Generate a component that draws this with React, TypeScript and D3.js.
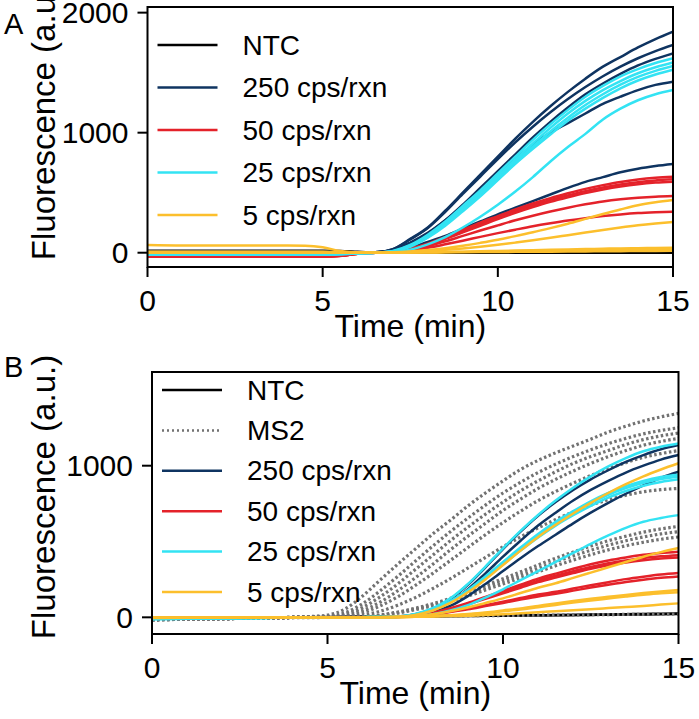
import React from "react";
import * as d3 from "d3";

// sample times (min), shared by every trace
const time = [0, 1, 2, 3, 4, 4.5, 5, 5.5, 6, 6.5, 7, 7.5, 8, 8.5, 9, 9.5, 10, 10.5, 11, 11.5, 12, 12.5, 13, 13.5, 14, 14.5, 15];
const xTicks = [0, 5, 10, 15];
const yTicksA = [0, 1000, 2000];
const yTicksB = [0, 1000];

// ---- panel A traces ----
const ntcA = [
  [17, 17, 17, 17, 17, 17, 17, 15, 8, 2, 0, 0, 0, 0, 0, 0, 0, 0, 0, 0, 0, 0, 0, 0, 0, 0, 0],
  [2, 2, 2, 2, 2, 2, 2, 2, 1, 0, 0, 0, 0, 0, 1, 1, 1, 1, 1, 1, 1, 1, 1, 1, 1, 1, 1],
];
const cps250A = [
  [5, 5, 5, 5, 5, 5, 5, 4, 2, 3, 30, 115, 210, 350, 500, 650, 800, 950, 1090, 1220, 1340, 1450, 1550, 1630, 1710, 1780, 1842],
  [6, 6, 6, 6, 6, 6, 6, 5, 2, 3, 28, 110, 205, 340, 490, 635, 780, 920, 1050, 1170, 1280, 1380, 1470, 1550, 1620, 1680, 1731],
  [4, 4, 4, 4, 4, 4, 4, 3, 1, 2, 20, 80, 160, 270, 400, 540, 680, 820, 960, 1090, 1210, 1320, 1410, 1490, 1560, 1615, 1661],
  [8, 8, 8, 8, 8, 8, 8, 6, 3, 3, 22, 85, 165, 270, 390, 520, 650, 780, 900, 1000, 1080, 1160, 1240, 1300, 1355, 1398, 1425],
  [3, 3, 3, 3, 3, 3, 3, 2, 1, 1, 10, 40, 90, 140, 200, 260, 320, 375, 430, 485, 540, 590, 630, 670, 700, 722, 739],
];
const cps50A = [
  [-30, -30, -30, -30, -30, -30, -30, -25, -8, 0, 10, 35, 75, 130, 190, 250, 305, 360, 410, 455, 495, 532, 563, 590, 610, 624, 633],
  [-32, -32, -32, -32, -32, -32, -32, -26, -8, 0, 10, 33, 72, 125, 183, 240, 295, 347, 395, 440, 478, 513, 543, 568, 588, 602, 611],
  [-28, -28, -28, -28, -28, -28, -28, -23, -7, 0, 8, 30, 65, 115, 170, 225, 280, 332, 380, 424, 462, 497, 527, 552, 571, 584, 592],
  [-33, -33, -33, -33, -33, -33, -33, -27, -9, 0, 6, 25, 55, 95, 140, 185, 228, 270, 308, 343, 375, 403, 427, 445, 458, 467, 472],
  [-30, -30, -30, -30, -30, -30, -30, -25, -8, 0, 5, 20, 42, 70, 100, 132, 163, 192, 220, 245, 268, 288, 305, 319, 330, 337, 342],
];
const cps25A = [
  [-12, -12, -12, -12, -12, -12, -12, -10, -5, 0, 15, 65, 150, 260, 390, 520, 660, 800, 940, 1070, 1190, 1300, 1390, 1470, 1530, 1580, 1620],
  [-14, -14, -14, -14, -14, -14, -14, -11, -5, 0, 12, 60, 140, 245, 370, 500, 640, 775, 910, 1040, 1160, 1265, 1355, 1430, 1495, 1545, 1585],
  [-10, -10, -10, -10, -10, -10, -10, -8, -4, 0, 10, 55, 130, 235, 355, 485, 620, 755, 885, 1010, 1125, 1230, 1320, 1400, 1465, 1515, 1555],
  [-15, -15, -15, -15, -15, -15, -15, -12, -6, 0, 10, 50, 125, 225, 345, 470, 605, 740, 865, 985, 1100, 1200, 1290, 1370, 1435, 1485, 1525],
  [-12, -12, -12, -12, -12, -12, -12, -10, -5, 0, 5, 25, 70, 130, 210, 300, 400, 510, 630, 760, 880, 990, 1110, 1200, 1270, 1320, 1355],
];
const cps5A = [
  [64, 60, 60, 60, 60, 58, 45, 15, 2, 0, 3, 10, 22, 38, 58, 82, 108, 138, 170, 205, 242, 282, 322, 360, 395, 420, 439],
  [5, 5, 5, 5, 5, 5, 5, 4, 2, 0, 2, 6, 14, 24, 36, 50, 66, 84, 103, 124, 146, 168, 190, 210, 228, 243, 256],
  [8, 8, 8, 8, 8, 8, 8, 6, 3, 0, 1, 2, 4, 6, 9, 12, 15, 18, 21, 24, 27, 30, 33, 36, 38, 40, 42],
  [3, 3, 3, 3, 3, 3, 3, 2, 1, 0, 1, 2, 3, 5, 7, 9, 11, 13, 15, 17, 19, 21, 23, 25, 27, 29, 30],
  [0, 0, 0, 0, 0, 0, 0, 0, 0, 0, 0, 1, 2, 3, 4, 5, 6, 7, 8, 9, 10, 11, 12, 13, 14, 15, 16],
];

// ---- panel B traces ----
const ntcB = [
  [-6, -5, -4, -3, -1, 0, 1, 2, 3, 4, 5, 6, 7, 8, 9, 10, 11, 12, 13, 14, 15, 16, 17, 18, 19, 20, 22],
  [-4, -3, -2, -1, 0, 1, 2, 3, 4, 5, 6, 7, 8, 9, 10, 11, 12, 13, 14, 15, 16, 18, 19, 21, 22, 24, 25],
];
const ms2B = [
  [-15, -12, -9, -5, 0, 5, 15, 55, 140, 246, 350, 450, 550, 640, 735, 820, 900, 975, 1035, 1085, 1130, 1175, 1222, 1260, 1295, 1322, 1345],
  [-16, -13, -9, -5, 0, 4, 8, 30, 90, 175, 270, 370, 470, 565, 655, 740, 820, 890, 955, 1010, 1060, 1105, 1145, 1180, 1210, 1232, 1250],
  [-14, -11, -8, -4, 0, 3, 5, 20, 65, 135, 220, 315, 410, 505, 595, 680, 760, 835, 900, 960, 1015, 1060, 1100, 1140, 1172, 1197, 1215],
  [-17, -13, -9, -5, -1, 2, 3, 12, 45, 100, 175, 260, 350, 445, 535, 620, 705, 780, 850, 910, 965, 1015, 1060, 1100, 1135, 1160, 1180],
  [-15, -12, -9, -5, -1, 1, 2, 8, 30, 75, 135, 210, 290, 375, 460, 545, 625, 700, 770, 830, 885, 935, 980, 1020, 1055, 1080, 1100],
  [-16, -12, -9, -5, -1, 1, 2, 5, 15, 40, 80, 130, 190, 255, 325, 395, 465, 530, 590, 645, 695, 740, 775, 805, 828, 842, 850],
  [-14, -11, -8, -5, -1, 1, 2, 3, 5, 15, 35, 60, 90, 125, 165, 210, 255, 300, 345, 390, 430, 470, 505, 535, 562, 583, 600],
  [-15, -12, -9, -5, -1, 1, 2, 3, 4, 13, 32, 55, 83, 115, 152, 195, 238, 280, 323, 366, 405, 442, 476, 505, 530, 550, 565],
  [-16, -13, -9, -5, -1, 1, 2, 3, 3, 10, 28, 50, 76, 106, 140, 180, 220, 260, 300, 340, 378, 413, 445, 472, 495, 515, 530],
  [-15, -12, -9, -6, -3, -2, -1, 0, 2, 4, 6, 7, 8, 9, 10, 11, 12, 13, 14, 15, 16, 17, 18, 19, 20, 21, 22],
];
const cps250B = [
  [-8, -6, -5, -3, -1, 0, 0, 0, 1, 2, 5, 20, 55, 120, 215, 330, 450, 565, 670, 760, 840, 910, 970, 1025, 1070, 1108, 1136],
  [-6, -5, -4, -2, -1, 0, 0, 0, 1, 2, 4, 15, 45, 100, 185, 290, 400, 505, 605, 690, 770, 840, 900, 955, 1000, 1040, 1070],
  [-7, -6, -4, -3, -1, 0, 0, 0, 1, 1, 3, 12, 35, 75, 140, 220, 305, 390, 470, 545, 620, 690, 755, 815, 870, 920, 960],
];
const cps50B = [
  [-6, -5, -4, -2, -1, 0, 0, 0, 1, 1, 3, 12, 30, 60, 95, 135, 175, 215, 255, 288, 320, 350, 375, 395, 412, 424, 433],
  [-8, -6, -5, -3, -1, 0, 0, 0, 1, 1, 3, 11, 28, 56, 90, 128, 166, 204, 242, 274, 304, 332, 356, 375, 391, 402, 410],
  [-5, -4, -3, -2, -1, 0, 0, 0, 1, 1, 3, 10, 26, 53, 86, 122, 158, 195, 232, 263, 292, 320, 343, 362, 377, 388, 395],
  [-7, -6, -4, -3, -1, 0, 0, 0, 1, 1, 2, 8, 20, 38, 58, 80, 103, 127, 150, 168, 190, 212, 232, 252, 268, 282, 292],
  [-6, -5, -4, -2, -1, 0, 0, 0, 1, 1, 2, 7, 18, 35, 53, 74, 95, 117, 138, 156, 176, 196, 215, 233, 248, 261, 270],
];
const cps25B = [
  [-10, -8, -6, -4, -2, -1, 0, 0, 1, 2, 5, 22, 60, 125, 220, 335, 455, 570, 675, 770, 855, 930, 995, 1050, 1095, 1125, 1146],
  [-12, -10, -7, -5, -2, -1, 0, 0, 1, 2, 4, 18, 50, 105, 180, 270, 365, 460, 550, 630, 700, 765, 820, 865, 900, 925, 940],
  [-9, -7, -5, -4, -2, -1, 0, 0, 1, 2, 4, 17, 48, 102, 176, 265, 358, 452, 540, 620, 690, 753, 808, 852, 887, 912, 927],
  [-11, -9, -6, -4, -2, -1, 0, 0, 1, 2, 4, 16, 46, 98, 170, 257, 348, 440, 527, 605, 673, 735, 790, 833, 868, 893, 910],
  [-10, -8, -6, -4, -2, -1, 0, 0, 1, 1, 2, 8, 20, 45, 80, 130, 185, 245, 305, 365, 425, 485, 540, 590, 630, 655, 674],
];
const cps5B = [
  [-4, -3, -2, -1, 0, 0, 0, 0, 1, 2, 4, 16, 45, 95, 165, 250, 345, 440, 530, 610, 685, 755, 820, 878, 930, 975, 1016],
  [-3, -2, -2, -1, 0, 0, 0, 0, 1, 1, 2, 8, 20, 40, 65, 95, 125, 160, 195, 225, 260, 295, 330, 365, 400, 430, 457],
  [-2, -2, -1, -1, 0, 0, 0, 0, 1, 1, 2, 4, 8, 14, 22, 32, 45, 58, 75, 92, 108, 122, 135, 148, 160, 170, 180],
  [-3, -2, -2, -1, 0, 0, 0, 0, 1, 1, 2, 4, 7, 12, 19, 28, 40, 52, 67, 82, 97, 111, 124, 137, 149, 158, 166],
  [-2, -1, -1, 0, 0, 0, 0, 0, 1, 1, 1, 3, 5, 8, 10, 15, 20, 27, 33, 40, 47, 54, 61, 68, 75, 84, 92],
];

const FONT = '"Liberation Sans", Arial, Helvetica, sans-serif';
const NAVY = "#0f3461";
const RED = "#e4222a";
const CYAN = "#33e3f3";
const GOLD = "#fcbf2c";
const GREY = "#727272";

type Group = { label: string; color: string; dotted?: boolean; lines: number[][] };

const groupsA: Group[] = [
  { label: "NTC", color: "#000", lines: ntcA },
  { label: "250 cps/rxn", color: NAVY, lines: cps250A },
  { label: "50 cps/rxn", color: RED, lines: cps50A },
  { label: "25 cps/rxn", color: CYAN, lines: cps25A },
  { label: "5 cps/rxn", color: GOLD, lines: cps5A },
];
const groupsB: Group[] = [
  { label: "NTC", color: "#000", lines: ntcB },
  { label: "MS2", color: GREY, dotted: true, lines: ms2B },
  { label: "250 cps/rxn", color: NAVY, lines: cps250B },
  { label: "50 cps/rxn", color: RED, lines: cps50B },
  { label: "25 cps/rxn", color: CYAN, lines: cps25B },
  { label: "5 cps/rxn", color: GOLD, lines: cps5B },
];

interface PanelProps {
  id: string;
  letter: string;
  letterY: number;
  groups: Group[];
  left: number;
  right: number;
  top: number;
  bottom: number;
  yDomain: [number, number];
  yTicks: number[];
  legendY: number;
  legendStep: number;
  ylabelY: number;
}

function Panel(p: PanelProps) {
  const x = d3.scaleLinear().domain([0, 15]).range([p.left, p.right]);
  const y = d3.scaleLinear().domain(p.yDomain).range([p.bottom, p.top]);
  const line = d3.line<number>()
    .x((_, i) => x(time[i]))
    .y((d) => y(d))
    .curve(d3.curveMonotoneX);
  const lx = p.left + 10;
  return (
    <g fontFamily={FONT}>
      <defs>
        <clipPath id={`clip-${p.id}`}>
          <rect x={p.left} y={p.top} width={p.right - p.left} height={p.bottom - p.top} />
        </clipPath>
      </defs>
      <g clipPath={`url(#clip-${p.id})`}>
        {p.groups.map((g) =>
          g.lines.map((vals, k) => (
            <path
              key={g.label + k}
              d={line(vals) || ""}
              fill="none"
              stroke={g.color}
              strokeWidth={g.dotted ? 3.2 : 2.5}
              strokeDasharray={g.dotted ? "2.5 2.5" : undefined}
            />
          ))
        )}
      </g>
      <rect x={p.left} y={p.top} width={p.right - p.left} height={p.bottom - p.top}
        fill="none" stroke="#000" strokeWidth={2} />
      {p.yTicks.map((t) => (
        <g key={t}>
          <line x1={p.left - 10} x2={p.left} y1={y(t)} y2={y(t)} stroke="#000" strokeWidth={2} />
          <text x={p.left - 19} y={y(t)} textAnchor="end" dominantBaseline="central" fontSize={30}>{t}</text>
        </g>
      ))}
      {xTicks.map((t) => (
        <g key={t}>
          <line x1={x(t)} x2={x(t)} y1={p.bottom} y2={p.bottom + 10} stroke="#000" strokeWidth={2} />
          <text x={x(t)} y={p.bottom + 44} textAnchor="middle" fontSize={30}>{t}</text>
        </g>
      ))}
      <text x={(p.left + p.right) / 2} y={p.bottom + 70} textAnchor="middle" fontSize={32}>Time (min)</text>
      <text transform={`translate(55,${p.ylabelY}) rotate(-90)`} textAnchor="middle" fontSize={33}>Fluorescence (a.u.)</text>
      <text x={4} y={p.letterY} fontSize={29}>{p.letter}</text>
      {p.groups.map((g, i) => {
        const yy = p.legendY + i * p.legendStep;
        return (
          <g key={g.label}>
            <line x1={lx} x2={lx + 60} y1={yy} y2={yy} stroke={g.color}
              strokeWidth={g.dotted ? 2.5 : 2.5} strokeDasharray={g.dotted ? "2 3" : undefined} />
            <text x={lx + 85} y={yy} dominantBaseline="central" fontSize={28}>{g.label}</text>
          </g>
        );
      })}
    </g>
  );
}

export default function App() {
  return (
    <svg width={699} height={719} style={{ position: "absolute", left: 0, top: 0, background: "#fff" }}>
      <Panel id="a" letter="A" letterY={34} groups={groupsA}
        left={147.5} right={673} top={7} bottom={267} yDomain={[-119, 2047]} yTicks={yTicksA}
        legendY={45} legendStep={42.5} ylabelY={118} />
      <Panel id="b" letter="B" letterY={377} groups={groupsB}
        left={152} right={678.5} top={372} bottom={634} yDomain={[-110, 1618]} yTicks={yTicksB}
        legendY={390} legendStep={40.4} ylabelY={497} />
    </svg>
  );
}
